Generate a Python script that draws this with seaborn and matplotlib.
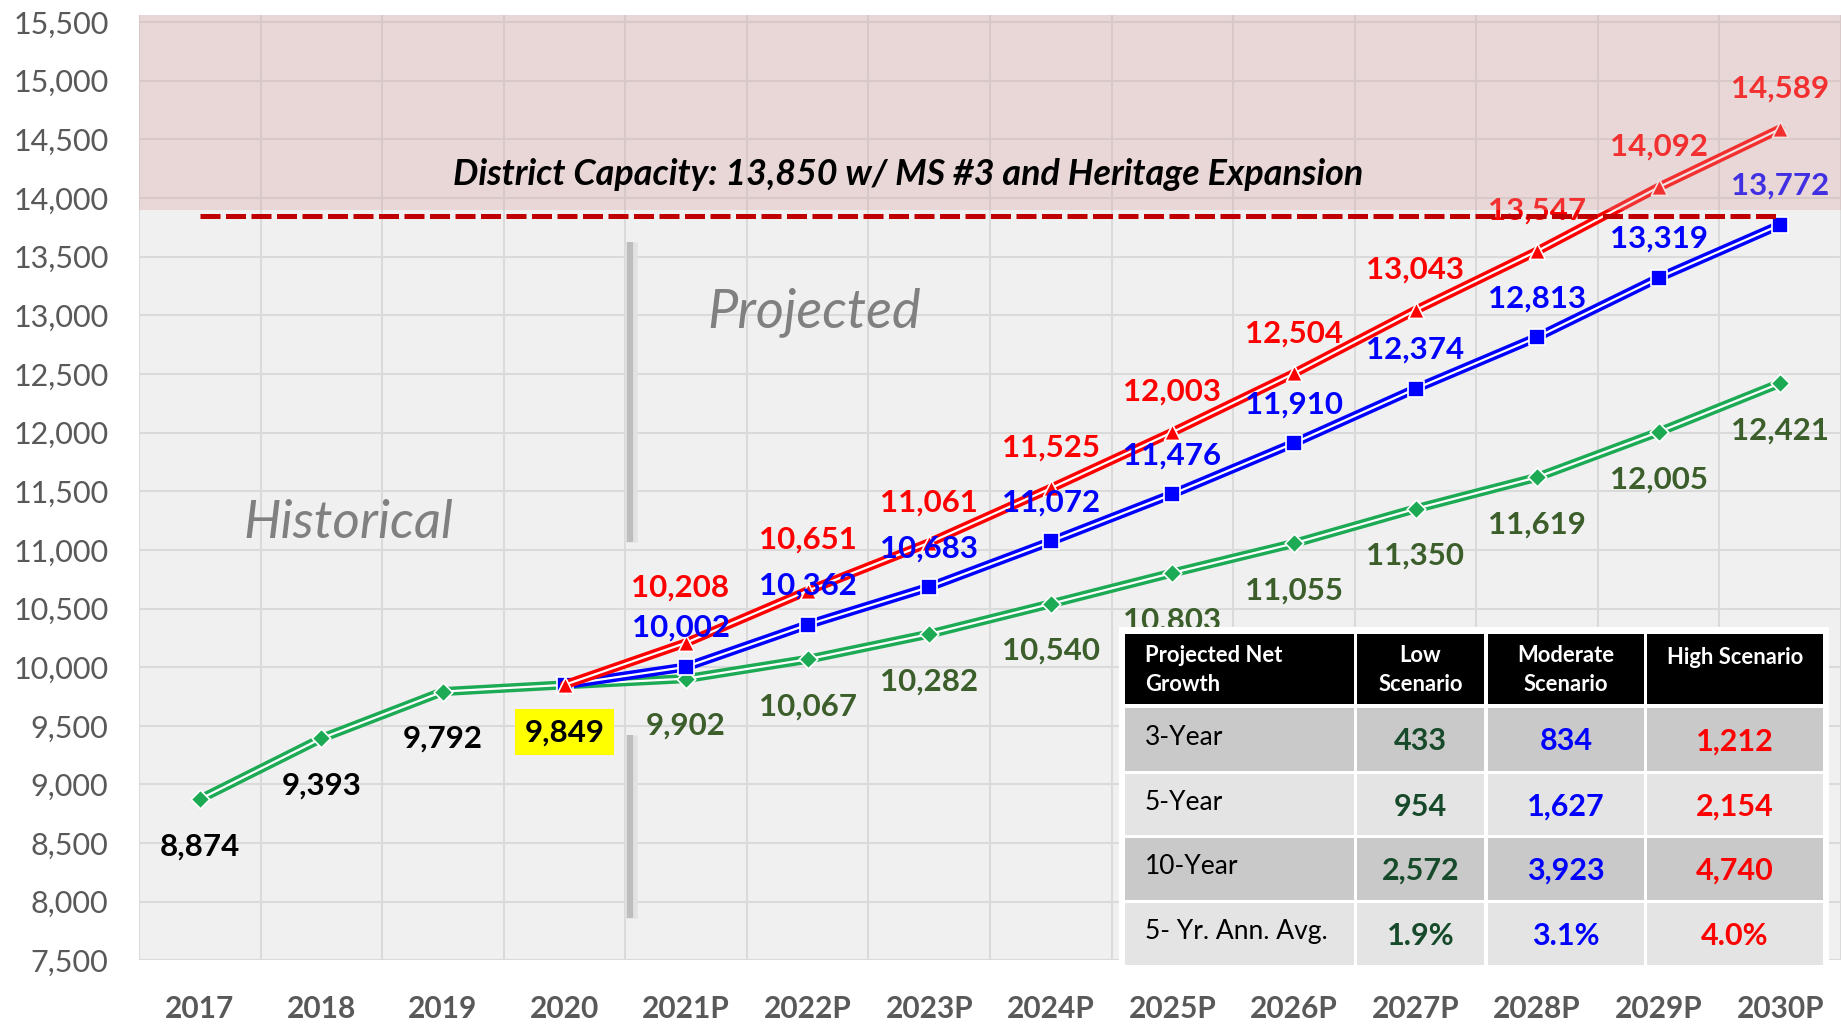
import numpy as np
import pandas as pd
import matplotlib
matplotlib.use("Agg")
import matplotlib.pyplot as plt
import seaborn as sns
from matplotlib.patches import Rectangle

# ---- data -------------------------------------------------------------
years = ["2017", "2018", "2019", "2020", "2021P", "2022P", "2023P", "2024P",
         "2025P", "2026P", "2027P", "2028P", "2029P", "2030P"]
historical = [8874, 9393, 9792, 9849]
low = [9902, 10067, 10282, 10540, 10803, 11055, 11350, 11619, 12005, 12421]
moderate = [10002, 10362, 10683, 11072, 11476, 11910, 12374, 12813, 13319, 13772]
high = [10208, 10651, 11061, 11525, 12003, 12504, 13043, 13547, 14092, 14589]
capacity = 13850
capacity_text = "District Capacity: 13,850 w/ MS #3 and Heritage Expansion"

table_header = ["Projected Net\nGrowth", "Low\nScenario", "Moderate\nScenario", "High Scenario"]
table_rows = ["3-Year", "5-Year", "10-Year", "5- Yr. Ann. Avg."]

# ---- style ------------------------------------------------------------
sns.set_style("white")
plt.rcParams["font.family"] = ["Lato", "DejaVu Sans"]

GREEN, BLUE, RED = "#1DAA55", "#0000FF", "#FF0000"
GREEN_TXT = "#3B5E2B"
GREEN_TBL = "#174A2A"
TICK_GREY = "#595959"

n_hist = len(historical)
base = historical[-1]
rows = []
for i, v in enumerate(historical + low):
    rows.append(("Low", i, v))
for i, v in enumerate([base] + moderate):
    rows.append(("Moderate", n_hist - 1 + i, v))
for i, v in enumerate([base] + high):
    rows.append(("High", n_hist - 1 + i, v))
df = pd.DataFrame(rows, columns=["scenario", "x", "value"])

fig = plt.figure(figsize=(18.41, 10.30), dpi=100)
ax = fig.add_axes([139 / 1841, 1 - 960.4 / 1030, 1 - 139 / 1841, (960.4 - 15) / 1030])
ax.set_facecolor("#F0F0F0")
ax.set_xlim(-0.5, len(years) - 0.5)
ax.set_ylim(7500, 15560)

# grid
ax.set_yticks(np.arange(7500, 15501, 500))
ax.set_yticklabels([f"{v:,}" for v in range(7500, 15501, 500)])
ax.set_xticks(np.arange(len(years)))
ax.set_xticklabels(years)
ax.set_xticks(np.arange(len(years) + 1) - 0.5, minor=True)
ax.grid(which="major", axis="y", color="#DADADA", lw=1.5, zorder=0)
ax.grid(which="minor", axis="x", color="#DADADA", lw=1.5, zorder=0)
ax.grid(which="major", axis="x", visible=False)
ax.set_axisbelow(True)
for s in ax.spines.values():
    s.set_visible(False)
ax.tick_params(axis="y", length=0, pad=22, labelsize=22, labelcolor=TICK_GREY)
ax.tick_params(axis="x", which="both", length=0, pad=25, labelsize=21.5, labelcolor=TICK_GREY)
for t in ax.get_xticklabels():
    t.set_fontweight("bold")

# series: double (compound) lines with markers
styles = [("Low", GREEN, "D", 90, 3), ("Moderate", BLUE, "s", 120, 4), ("High", RED, "^", 130, 5)]
for name, col, mk, ms, z in styles:
    d = df[df.scenario == name]
    sns.lineplot(data=d, x="x", y="value", color=col, lw=6.5, sort=False, ax=ax,
                 legend=False, zorder=z, solid_capstyle="round")
    sns.lineplot(data=d, x="x", y="value", color="white", lw=1.6, sort=False, ax=ax,
                 legend=False, zorder=z + 0.1)
for name, col, mk, ms, z in styles:
    d = df[df.scenario == name]
    sns.scatterplot(data=d, x="x", y="value", color=col, marker=mk, s=ms,
                    edgecolor="white", linewidth=1.2, ax=ax, legend=False, zorder=z + 0.5)
ax.set_xlabel("")
ax.set_ylabel("")

# value labels
lab_kw = dict(textcoords="offset points", ha="center", va="center",
              fontsize=22.5, fontweight="bold", zorder=7)
for i, v in enumerate(historical):
    bbox = dict(boxstyle="square,pad=0.3", fc="#FFFF00", ec="none") if i == n_hist - 1 else None
    ax.annotate(f"{v:,}", (i, v), xytext=(0, -34), color="black", bbox=bbox, **lab_kw)
for i, v in enumerate(low):
    ax.annotate(f"{v:,}", (n_hist + i, v), xytext=(0, -34), color=GREEN_TXT, **lab_kw)
for i, v in enumerate(moderate):
    ax.annotate(f"{v:,}", (n_hist + i, v), xytext=(-4 if i == 0 else 0, 28), color=BLUE, **lab_kw)
for i, v in enumerate(high):
    dy = 40 if i == 0 else (37 if i == 1 else 29)
    ax.annotate(f"{v:,}", (n_hist + i, v), xytext=(-4 if i == 0 else 0, dy), color=RED, **lab_kw)

# historical / projected divider
for y0, y1 in [(11071, 13626), (7865, 9418)]:
    ax.plot([3.55, 3.55], [y0, y1], color="#E2E2E2", lw=9, zorder=2, solid_capstyle="butt")
    ax.plot([3.54, 3.54], [y0, y1], color="#BDBDBD", lw=4.5, zorder=2.1, solid_capstyle="butt")
ax.text(1.22, 11230, "Historical", fontsize=38, style="italic", color="#808080",
        ha="center", va="center", zorder=2)
ax.text(5.05, 13030, "Projected", fontsize=39, style="italic", color="#808080",
        ha="center", va="center", zorder=2)

# capacity zone
ax.add_patch(Rectangle((-0.5, 13900), len(years), 15560 - 13900,
                       facecolor=(217 / 255, 160 / 255, 160 / 255), alpha=0.3,
                       edgecolor="none", zorder=8))
ax.plot([0, len(years) - 1], [capacity, capacity], color="#C00000", lw=3.6,
        dashes=(4.0, 1.1), zorder=9)
ax.text(5.83, 14200, capacity_text, fontsize=25.8, fontweight="bold", style="italic",
        color="black", ha="center", va="center", zorder=10)

# ---- growth summary table ---------------------------------------------
def growth(series, k):
    return series[k - 1] - base

def ann_avg(series, k):
    return (series[k - 1] / base) ** (1 / k) - 1

scen = [low, moderate, high]
scen_col = [GREEN_TBL, BLUE, RED]
cells = []
for k in (3, 5, 10):
    cells.append([f"{growth(s, k):,}" for s in scen])
cells.append([f"{ann_avg(s, 5) * 100:.1f}%" for s in scen])

tax = fig.add_axes([0, 0, 1, 1], zorder=20)
tax.set_xlim(0, 1841)
tax.set_ylim(1030, 0)
tax.axis("off")
tax.patch.set_alpha(0)

col_x = [(1125, 1354), (1357, 1484), (1488, 1644), (1647, 1823)]
row_y = [(634, 704), (708, 771), (774, 835), (838, 900), (903, 965)]
tax.add_patch(Rectangle((1119, 627), 1829 - 1119, 969 - 627, fc="white", ec="none"))
row_fill = ["black", "#C9C9C9", "#E4E4E4", "#C9C9C9", "#E4E4E4"]
for r, (y0, y1) in enumerate(row_y):
    for c, (x0, x1) in enumerate(col_x):
        tax.add_patch(Rectangle((x0, y0), x1 - x0, y1 - y0, fc=row_fill[r], ec="none"))
        yc = (y0 + y1) / 2
        if r == 0:
            if c == 0:
                tax.text(x0 + 20, yc + 1, table_header[c], color="white", fontsize=15.8,
                         fontweight="bold", ha="left", va="center", linespacing=1.45)
            else:
                tax.text((x0 + x1) / 2, yc + 1 if "\n" in table_header[c] else y0 + 23,
                         table_header[c], color="white", fontsize=15.8, fontweight="bold",
                         ha="center", va="center", linespacing=1.45)
        elif c == 0:
            tax.text(x0 + 20, yc - 2, table_rows[r - 1], color="black", fontsize=19,
                     ha="left", va="center")
        else:
            tax.text((x0 + x1) / 2, yc + 2, cells[r - 1][c - 1], color=scen_col[c - 1],
                     fontsize=22, fontweight="bold", ha="center", va="center")

fig.savefig("out.png", dpi=100, facecolor="white")
